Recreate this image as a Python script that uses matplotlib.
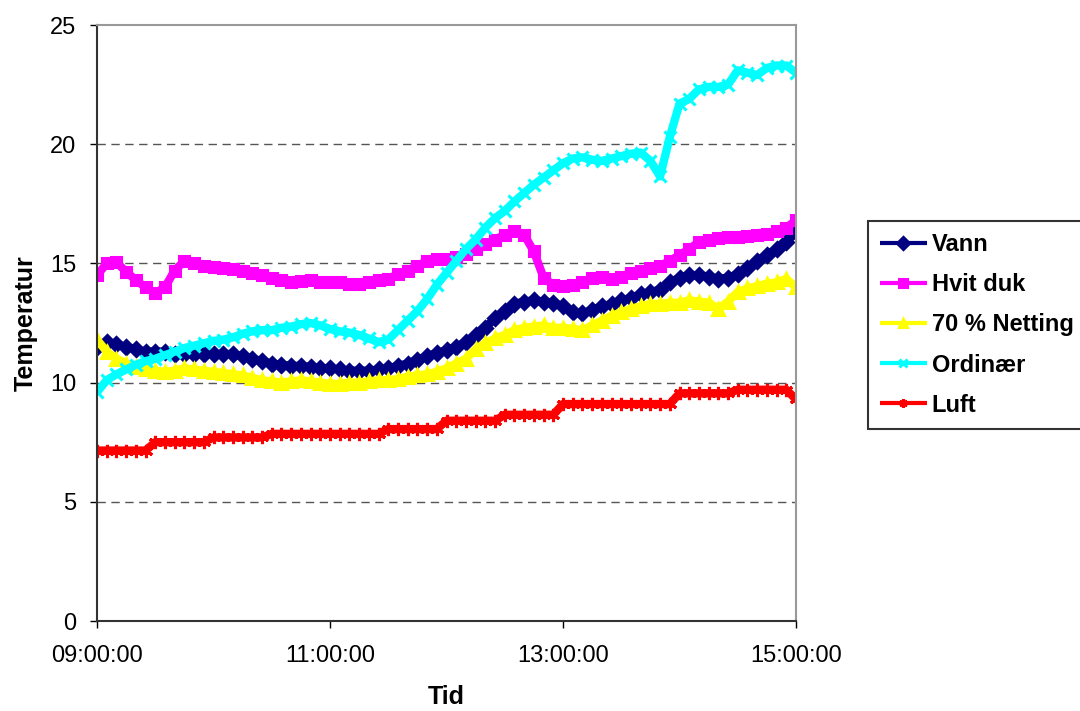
import matplotlib
matplotlib.use("Agg")
import matplotlib.pyplot as plt

plt.rcParams['font.family'] = ['Liberation Sans', 'DejaVu Sans']

# Sample times: minutes after 09:00, every 5 minutes up to 15:00
minutes = list(range(0, 361, 5))

vann = [11.5, 11.7, 11.6, 11.5, 11.4, 11.3, 11.3, 11.3, 11.2, 11.2,
        11.2, 11.2, 11.2, 11.2, 11.2, 11.1, 11.0, 10.9, 10.8, 10.75,
        10.7, 10.7, 10.65, 10.6, 10.6, 10.55, 10.5, 10.5, 10.5, 10.55,
        10.6, 10.7, 10.8, 10.95, 11.1, 11.25, 11.35, 11.5, 11.7, 12.0,
        12.3, 12.7, 13.0, 13.3, 13.4, 13.45, 13.4, 13.35, 13.2, 12.95,
        12.9, 13.05, 13.2, 13.3, 13.45, 13.55, 13.7, 13.8, 13.9, 14.2,
        14.4, 14.5, 14.5, 14.45, 14.35, 14.4, 14.55, 14.8, 15.1, 15.35,
        15.6, 15.9, 16.3]

hvit_duk = [14.5, 15.0, 15.05, 14.65, 14.3, 14.0, 13.75, 14.0, 14.7, 15.1,
            15.0, 14.9, 14.85, 14.8, 14.75, 14.7, 14.6, 14.5, 14.4, 14.3,
            14.2, 14.25, 14.3, 14.2, 14.2, 14.2, 14.15, 14.15, 14.2, 14.3,
            14.35, 14.55, 14.7, 14.9, 15.1, 15.2, 15.2, 15.25, 15.4, 15.6,
            15.8, 16.0, 16.2, 16.35, 16.2, 15.5, 14.4, 14.1, 14.05, 14.1,
            14.2, 14.4, 14.45, 14.35, 14.45, 14.6, 14.7, 14.8, 14.9, 15.1,
            15.35, 15.6, 15.9, 16.0, 16.05, 16.1, 16.1, 16.15, 16.2, 16.25,
            16.35, 16.5, 16.8]

netting = [11.8, 11.3, 11.0, 10.8, 10.65, 10.55, 10.5, 10.45, 10.5, 10.6,
           10.55, 10.5, 10.45, 10.4, 10.35, 10.3, 10.2, 10.1, 10.05, 10.0,
           10.05, 10.1, 10.05, 10.0, 9.95, 9.95, 10.0, 10.0, 10.05, 10.1,
           10.1, 10.15, 10.25, 10.3, 10.35, 10.45, 10.6, 10.8, 11.0, 11.4,
           11.65, 11.85, 12.0, 12.2, 12.3, 12.35, 12.4, 12.3, 12.3, 12.25,
           12.2, 12.4, 12.6, 12.8, 12.95, 13.1, 13.2, 13.3, 13.3, 13.35,
           13.35, 13.45, 13.4, 13.35, 13.1, 13.4, 13.8, 13.95, 14.05, 14.15,
           14.2, 14.35, 14.0]

ordinaer = [9.6, 10.1, 10.35, 10.55, 10.75, 10.9, 11.0, 11.15, 11.3, 11.45,
            11.55, 11.65, 11.75, 11.8, 11.9, 12.05, 12.15, 12.2, 12.2, 12.3,
            12.35, 12.45, 12.5, 12.4, 12.25, 12.15, 12.1, 12.0, 11.85, 11.7,
            11.8, 12.2, 12.6, 13.0, 13.5, 14.1, 14.6, 15.1, 15.6, 16.0,
            16.5, 16.9, 17.2, 17.6, 17.95, 18.3, 18.6, 18.9, 19.2, 19.4,
            19.45, 19.35, 19.3, 19.4, 19.5, 19.6, 19.65, 19.3, 18.65, 20.3,
            21.7, 21.9, 22.3, 22.4, 22.4, 22.5, 23.1, 23.0, 22.9, 23.2,
            23.3, 23.3, 23.0]

luft = [7.15, 7.15, 7.15, 7.15, 7.15, 7.15, 7.5, 7.5, 7.5, 7.5,
        7.5, 7.5, 7.7, 7.7, 7.7, 7.7, 7.7, 7.7, 7.85, 7.85,
        7.85, 7.85, 7.85, 7.85, 7.85, 7.85, 7.85, 7.85, 7.85, 7.85,
        8.05, 8.05, 8.05, 8.05, 8.05, 8.05, 8.4, 8.4, 8.4, 8.4,
        8.4, 8.4, 8.65, 8.65, 8.65, 8.65, 8.65, 8.65, 9.1, 9.1,
        9.1, 9.1, 9.1, 9.1, 9.1, 9.1, 9.1, 9.1, 9.1, 9.1,
        9.55, 9.55, 9.55, 9.55, 9.55, 9.55, 9.7, 9.7, 9.7, 9.7,
        9.7, 9.7, 9.3]

series_names = ["Vann", "Hvit duk", "70 % Netting", "Ordinær", "Luft"]
x_ticks = [0, 120, 240, 360]
x_tick_labels = ["09:00:00", "11:00:00", "13:00:00", "15:00:00"]
y_ticks = [0, 5, 10, 15, 20, 25]

styles = [
    dict(color="#000080", marker="D", ms=7.5),
    dict(color="#FF00FF", marker="s", ms=7.0),
    dict(color="#FFFF00", marker="^", ms=8.5),
    dict(color="#00FFFF", marker="x", ms=8.5),
    dict(color="#FF0000", marker=(6, 2, 0), ms=9.5),
]

fig = plt.figure(figsize=(10.8, 7.11), dpi=100)
ax = fig.add_axes([97 / 1080, 1 - 621 / 711, (796 - 97) / 1080, (621 - 25) / 711])

for name, values, st in zip(series_names, [vann, hvit_duk, netting, ordinaer, luft], styles):
    ax.plot(minutes, values, color=st["color"], lw=6.0, marker=st["marker"],
            ms=st["ms"], mec=st["color"], mfc=st["color"], mew=2.2,
            label=name, solid_joinstyle="round", solid_capstyle="butt")

ax.set_xlim(0, 360)
ax.set_ylim(0, 25)
ax.set_xticks(x_ticks)
ax.set_xticklabels(x_tick_labels)
ax.set_yticks(y_ticks)
ax.tick_params(axis="both", labelsize=17, direction="out", length=5, width=1, color="#000000")
ax.tick_params(axis="x", pad=12)
ax.tick_params(axis="y", pad=10)

for yv in [5, 10, 15, 20]:
    ax.axhline(yv, color="#555555", lw=1.0, ls=(0, (6, 4)), zorder=0.5)

ax.spines["left"].set_color("#333333")
ax.spines["bottom"].set_color("#333333")
ax.spines["top"].set_color("#999999")
ax.spines["right"].set_color("#999999")
for s in ax.spines.values():
    s.set_linewidth(1.5)

ax.set_xlabel("Tid", fontsize=18, fontweight="bold", labelpad=13)
ax.set_ylabel("Temperatur", fontsize=18, fontweight="bold", labelpad=9)

leg = fig.legend(loc="upper left", bbox_to_anchor=(868 / 1080, 1 - 221 / 711),
                 frameon=True, fancybox=False, prop={"size": 17, "weight": "bold"},
                 handlelength=2.0, handletextpad=0.2, labelspacing=0.73,
                 borderpad=0.5, borderaxespad=0)
leg.get_frame().set_edgecolor("#000000")
leg.get_frame().set_linewidth(1.5)
for h in leg.legend_handles:
    h.set_linewidth(3)
    h.set_markersize(6)

fig.savefig("out.png", dpi=100)
